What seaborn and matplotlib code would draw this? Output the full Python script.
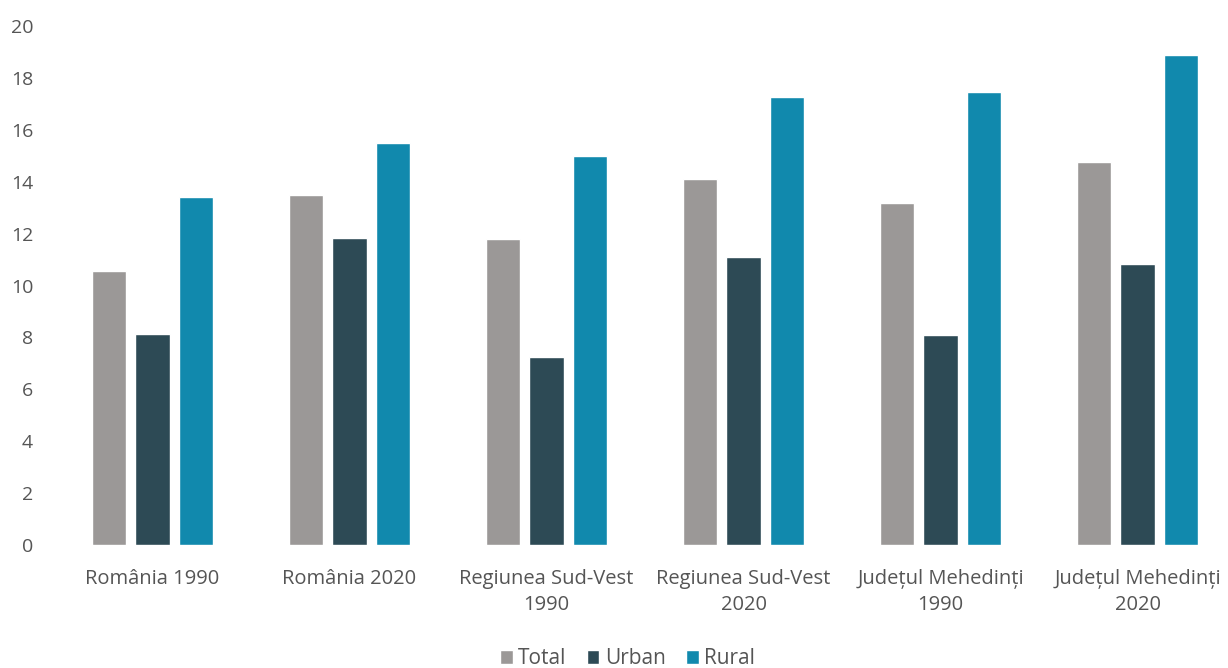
import matplotlib
matplotlib.use("Agg")
import matplotlib.pyplot as plt
import seaborn as sns
import pandas as pd

# data
categories = ["România 1990", "România 2020", "Regiunea Sud-Vest\n1990",
              "Regiunea Sud-Vest\n2020", "Județul Mehedinți\n1990", "Județul Mehedinți\n2020"]
total = [10.55, 13.5, 11.8, 14.1, 13.2, 14.75]
urban = [8.15, 11.85, 7.25, 11.1, 8.1, 10.85]
rural = [13.4, 15.5, 15.0, 17.25, 17.45, 18.9]
series = ["Total", "Urban", "Rural"]
colors = ["#9b9897", "#2d4a55", "#1189ad"]

df = pd.DataFrame({
    "category": categories * 3,
    "series": [s for s in series for _ in categories],
    "value": total + urban + rural,
})

sns.set_style("white")
plt.rcParams["font.family"] = ["Open Sans", "DejaVu Sans"]

fig = plt.figure(figsize=(12.28, 6.68), dpi=100)
ax = fig.add_axes([0.044, 0.184, 0.9545, 0.777])

sns.barplot(data=df, x="category", y="value", hue="series", order=categories,
            hue_order=series, palette=colors, width=0.665, gap=0.22,
            saturation=1, ax=ax, legend=True)

ax.set_ylim(0, 20)
ax.set_xlim(-0.5, 5.45)
ax.set_yticks(range(0, 21, 2))
ax.set_xlabel("")
ax.set_ylabel("")
sns.despine(ax=ax, left=True, bottom=True)
ax.tick_params(axis="both", length=0, colors="#555555")
ax.tick_params(axis="y", pad=15, labelsize=14)
ax.tick_params(axis="x", pad=17, labelsize=14.5)
for lbl in ax.get_xticklabels():
    lbl.set_linespacing(1.45)

# legend at the bottom
handles, labels = ax.get_legend_handles_labels()
ax.get_legend().remove()
fig.legend(handles, labels, loc="lower center", bbox_to_anchor=(0.511, -0.03), ncol=3,
           frameon=False, fontsize=15, handlelength=0.6, handleheight=0.6,
           handletextpad=0.25, columnspacing=1.0, labelcolor="#555555")

fig.savefig("out.png", dpi=100)
